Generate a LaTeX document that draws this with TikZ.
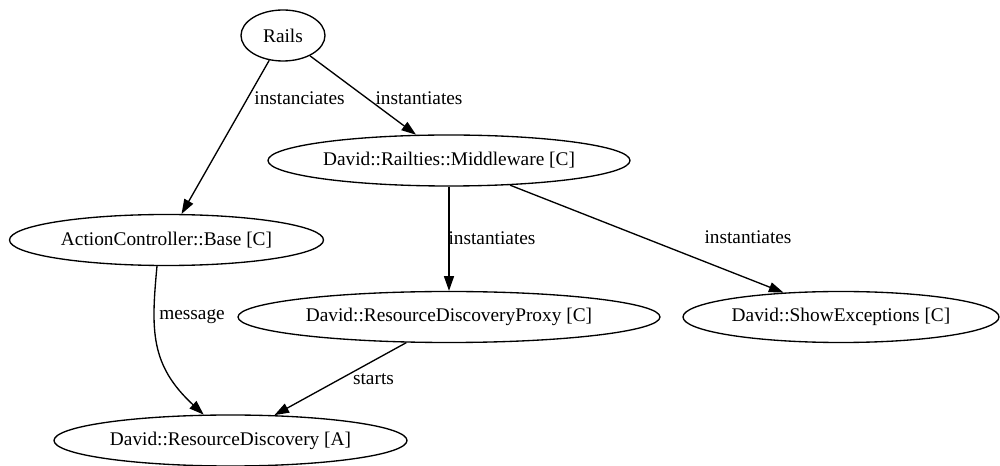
\documentclass[tikz,border=0pt]{standalone}
\usepackage{fontspec}
\setmainfont{Liberation Serif}
\usetikzlibrary{shapes.geometric,arrows.meta}
\begin{document}
\begin{tikzpicture}[x=0.75pt,y=-0.75pt,
  cls/.style={ellipse,draw,line width=1pt,inner sep=0pt,minimum height=38.25pt,
    font=\fontsize{14.5}{17}\selectfont},
  lbl/.style={inner sep=0pt,font=\fontsize{14.5}{17}\selectfont},
  rel/.style={draw,line width=1pt,-{Triangle[length=11pt,width=7.5pt]}}]
\useasboundingbox (0,0) rectangle (1000,466);

% classes
\node[cls,minimum width=63pt]     (rails) at (283,35.5)   {Rails};
\node[cls,minimum width=271.5pt]  (mw)    at (449,160.5)  {David::Railties::Middleware [C]};
\node[cls,minimum width=235.5pt]  (ac)    at (166.5,240)  {ActionController::Base [C]};
\node[cls,minimum width=316.5pt]  (proxy) at (449,317)    {David::ResourceDiscoveryProxy [C]};
\node[cls,minimum width=237pt]    (se)    at (841,317)    {David::ShowExceptions [C]};
\node[cls,minimum width=264.75pt] (rd)    at (230.5,440.5){David::ResourceDiscovery [A]};

% relations
\draw[rel] (rails.241) -- (ac.60);
\draw[rel] (rails.-37) -- (mw.142);
\draw[rel] (mw.south) -- (proxy.north);
\draw[rel] (mw.-22.5) -- (se.157);
\draw[rel] (ac.250) .. controls (151,330) and (150,365) .. (rd.136.6);
\draw[rel] (proxy.211) -- (rd.30);

% relation labels
\node[lbl] (l1) at (299.5,98) {instanciates};
\node[lbl] (l2) at (419,98)   {instantiates};
\node[lbl] (l3) at (492,238)  {instantiates};
\node[lbl] (l4) at (748,237)  {instantiates};
\node[lbl] (l5) at (192,317)  {message};
\node[lbl] (l6) at (373.5,379){starts};
\end{tikzpicture}
\end{document}
